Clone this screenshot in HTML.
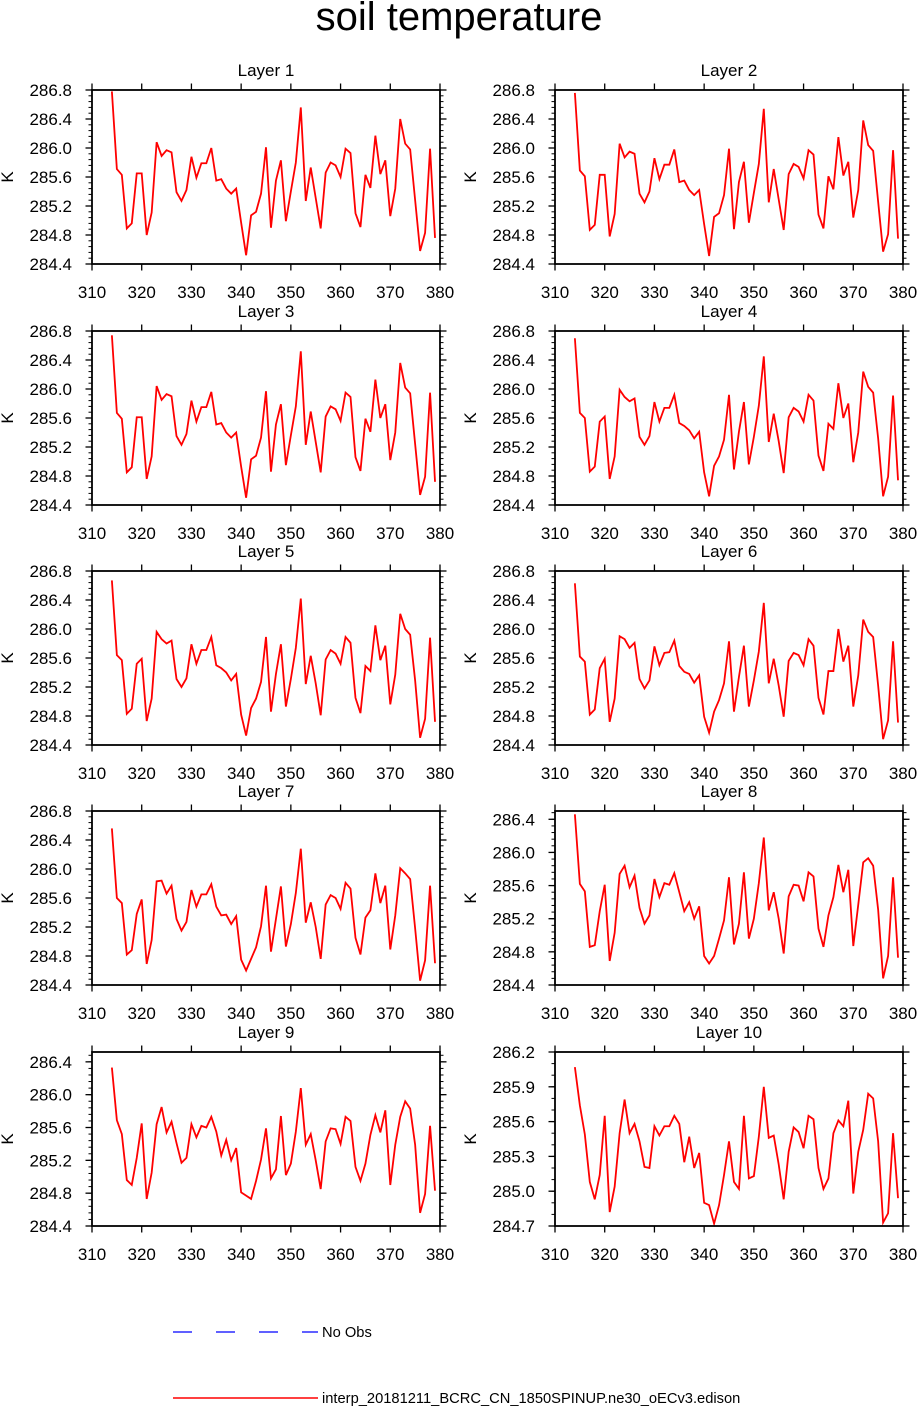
<!DOCTYPE html>
<html><head><meta charset="utf-8"><style>
html,body{margin:0;padding:0;background:#fff;}
svg{display:block;font-family:"Liberation Sans",Arial,sans-serif;}
</style></head><body>
<svg id="chart" width="918" height="1406" viewBox="0 0 918 1406" xmlns="http://www.w3.org/2000/svg">
<text x="459" y="30" text-anchor="middle" font-size="40">soil temperature</text>
<g id="panels"></g>
<g>
<line x1="173" y1="1332" x2="318" y2="1332" stroke="#0000ff" stroke-width="1.2" stroke-dasharray="19,24"/>
<text x="322" y="1337" font-size="14.7">No Obs</text>
<line x1="173" y1="1398" x2="318" y2="1398" stroke="#ff0000" stroke-width="1.5"/>
<text x="322" y="1403" font-size="14.7">interp_20181211_BCRC_CN_1850SPINUP.ne30_oECv3.edison</text>
</g>
</svg>
<script>
const days=[314,315,316,317,318,319,320,321,322,323,324,325,326,327,328,329,330,331,332,333,334,335,336,337,338,339,340,341,342,343,344,345,346,347,348,349,350,351,352,353,354,355,356,357,358,359,360,361,362,363,364,365,366,367,368,369,370,371,372,373,374,375,376,377,378,379];
const xTicks=[310,320,330,340,350,360,370,380];
const layer1=[286.78,285.71,285.63,284.89,284.96,285.65,285.65,284.80,285.11,286.08,285.89,285.97,285.94,285.39,285.27,285.42,285.88,285.59,285.79,285.79,286.00,285.55,285.57,285.44,285.37,285.44,284.97,284.52,285.07,285.12,285.37,286.01,284.90,285.55,285.83,284.99,285.40,285.80,286.56,285.27,285.73,285.31,284.89,285.66,285.80,285.76,285.60,285.99,285.93,285.10,284.91,285.63,285.45,286.17,285.64,285.83,285.06,285.44,286.40,286.06,285.98,285.28,284.58,284.83,285.99,284.76];
const layer2=[286.76,285.69,285.61,284.87,284.94,285.63,285.63,284.78,285.09,286.06,285.87,285.95,285.92,285.37,285.25,285.40,285.86,285.57,285.77,285.77,285.98,285.53,285.55,285.42,285.35,285.42,284.95,284.51,285.05,285.10,285.35,285.99,284.88,285.53,285.81,284.97,285.38,285.78,286.54,285.25,285.71,285.29,284.87,285.64,285.78,285.74,285.58,285.97,285.91,285.08,284.89,285.61,285.43,286.15,285.62,285.81,285.04,285.42,286.38,286.04,285.96,285.26,284.57,284.81,285.97,284.75];
const layer3=[286.74,285.67,285.59,284.85,284.92,285.61,285.61,284.76,285.07,286.04,285.85,285.93,285.90,285.35,285.23,285.38,285.84,285.55,285.75,285.75,285.96,285.51,285.53,285.40,285.33,285.40,284.93,284.50,285.03,285.08,285.33,285.97,284.86,285.51,285.79,284.95,285.36,285.76,286.52,285.23,285.69,285.27,284.85,285.62,285.76,285.72,285.56,285.95,285.89,285.06,284.87,285.59,285.41,286.13,285.60,285.79,285.02,285.40,286.36,286.02,285.94,285.24,284.54,284.79,285.95,284.72];
const layer4=[286.70,285.67,285.60,284.86,284.93,285.55,285.62,284.76,285.07,285.99,285.89,285.83,285.87,285.34,285.23,285.35,285.82,285.55,285.74,285.74,285.92,285.53,285.49,285.43,285.32,285.41,284.85,284.52,284.94,285.07,285.30,285.92,284.89,285.41,285.82,284.96,285.34,285.77,286.45,285.27,285.66,285.28,284.84,285.61,285.74,285.69,285.55,285.92,285.84,285.08,284.87,285.52,285.45,286.08,285.60,285.80,284.99,285.40,286.24,286.03,285.95,285.32,284.52,284.79,285.91,284.74];
const layer5=[286.67,285.64,285.57,284.83,284.90,285.52,285.59,284.73,285.04,285.96,285.86,285.80,285.84,285.31,285.20,285.32,285.79,285.52,285.71,285.71,285.89,285.50,285.46,285.40,285.29,285.38,284.82,284.53,284.91,285.04,285.27,285.89,284.86,285.38,285.79,284.93,285.31,285.74,286.42,285.24,285.63,285.25,284.81,285.58,285.71,285.66,285.52,285.89,285.81,285.05,284.84,285.49,285.42,286.05,285.57,285.77,284.96,285.37,286.21,286.00,285.92,285.29,284.50,284.76,285.88,284.72];
const layer6=[286.63,285.62,285.55,284.82,284.89,285.46,285.59,284.72,285.04,285.90,285.86,285.74,285.81,285.31,285.18,285.29,285.76,285.50,285.67,285.68,285.84,285.49,285.41,285.38,285.26,285.36,284.79,284.57,284.86,285.02,285.25,285.83,284.86,285.34,285.77,284.93,285.29,285.69,286.36,285.25,285.59,285.22,284.79,285.56,285.67,285.64,285.50,285.86,285.77,285.05,284.82,285.42,285.42,286.00,285.55,285.77,284.93,285.36,286.13,285.96,285.89,285.22,284.48,284.74,285.83,284.71];
const layer7=[286.56,285.60,285.53,284.82,284.88,285.38,285.58,284.69,285.02,285.83,285.84,285.66,285.77,285.31,285.15,285.27,285.71,285.48,285.65,285.65,285.79,285.48,285.36,285.37,285.24,285.35,284.75,284.60,284.76,284.92,285.21,285.77,284.86,285.31,285.76,284.93,285.24,285.67,286.28,285.26,285.54,285.20,284.76,285.51,285.64,285.60,285.45,285.81,285.73,285.05,284.82,285.33,285.43,285.94,285.53,285.77,284.89,285.36,286.01,285.94,285.86,285.18,284.46,284.74,285.77,284.70];
const layer8=[286.46,285.62,285.53,284.86,284.88,285.29,285.61,284.69,285.03,285.74,285.84,285.58,285.72,285.33,285.14,285.24,285.68,285.46,285.63,285.61,285.75,285.52,285.29,285.40,285.20,285.35,284.75,284.66,284.75,284.96,285.18,285.70,284.89,285.14,285.76,284.96,285.20,285.63,286.18,285.30,285.52,285.20,284.78,285.47,285.61,285.60,285.41,285.76,285.71,285.08,284.86,285.24,285.46,285.85,285.52,285.79,284.87,285.37,285.88,285.93,285.84,285.31,284.48,284.75,285.70,284.73];
const layer9=[286.33,285.69,285.52,284.96,284.90,285.23,285.65,284.73,285.05,285.64,285.85,285.54,285.67,285.41,285.17,285.23,285.64,285.48,285.62,285.60,285.73,285.55,285.26,285.45,285.20,285.35,284.81,284.77,284.73,284.95,285.21,285.59,284.98,285.09,285.74,285.02,285.16,285.55,286.08,285.39,285.52,285.20,284.85,285.43,285.59,285.58,285.40,285.73,285.68,285.12,284.95,285.16,285.51,285.75,285.54,285.81,284.90,285.39,285.73,285.92,285.83,285.39,284.56,284.79,285.62,284.83];
const layer10=[286.07,285.74,285.49,285.08,284.93,285.14,285.65,284.82,285.04,285.50,285.79,285.50,285.58,285.43,285.21,285.20,285.56,285.48,285.56,285.56,285.65,285.58,285.25,285.47,285.20,285.33,284.90,284.88,284.72,284.88,285.14,285.43,285.08,285.02,285.65,285.11,285.13,285.47,285.90,285.46,285.48,285.23,284.93,285.34,285.55,285.51,285.37,285.65,285.62,285.20,285.02,285.11,285.50,285.61,285.56,285.78,284.98,285.34,285.53,285.84,285.80,285.43,284.73,284.81,285.50,284.94];
const ticks1to7=["284.4","284.8","285.2","285.6","286.0","286.4","286.8"];
const ticks8and9=["284.4","284.8","285.2","285.6","286.0","286.4"];
const ticks10=["284.7","285.0","285.3","285.6","285.9","286.2"];

const NS="http://www.w3.org/2000/svg";
const root=document.getElementById('panels');
function mk(tag,attrs,parent){const e=document.createElementNS(NS,tag);for(const k in attrs)e.setAttribute(k,attrs[k]);parent.appendChild(e);return e;}

const panels=[
 {title:"Layer 1",data:layer1,ticks:ticks1to7,ymin:284.4,ymax:286.8,minor:0.08},
 {title:"Layer 2",data:layer2,ticks:ticks1to7,ymin:284.4,ymax:286.8,minor:0.08},
 {title:"Layer 3",data:layer3,ticks:ticks1to7,ymin:284.4,ymax:286.8,minor:0.08},
 {title:"Layer 4",data:layer4,ticks:ticks1to7,ymin:284.4,ymax:286.8,minor:0.08},
 {title:"Layer 5",data:layer5,ticks:ticks1to7,ymin:284.4,ymax:286.8,minor:0.08},
 {title:"Layer 6",data:layer6,ticks:ticks1to7,ymin:284.4,ymax:286.8,minor:0.08},
 {title:"Layer 7",data:layer7,ticks:ticks1to7,ymin:284.4,ymax:286.8,minor:0.08},
 {title:"Layer 8",data:layer8,ticks:ticks8and9,ymin:284.4,ymax:286.5,minor:0.08},
 {title:"Layer 9",data:layer9,ticks:ticks8and9,ymin:284.4,ymax:286.52,minor:0.08},
 {title:"Layer 10",data:layer10,ticks:ticks10,ymin:284.7,ymax:286.2,minor:0.1}
];
const tops=[90,331,571,811,1052];
const lefts=[92,555];
const W=348,H=174;
const FS='17';

panels.forEach((p,i)=>{
  const L=lefts[i%2], T=tops[Math.floor(i/2)];
  const g=mk('g',{},root);
  
  
  const xs=v=>L+(v-310)/70*W;
  const ys=v=>T+H-(v-p.ymin)/(p.ymax-p.ymin)*H;
  const t=mk('text',{x:L+W/2,y:T-14,'text-anchor':'middle','font-size':FS},g);
  
  
  t.textContent=p.title;
  const yl=mk('text',{x:0,y:0,'text-anchor':'middle','font-size':FS,transform:'translate('+(L-79)+','+(T+H/2)+') rotate(-90)'},g);
  
  
  yl.textContent='K';
  const start=Math.ceil((p.ymin-1e-6)/p.minor);
  for(let k=start;k*p.minor<=p.ymax+1e-6;k++){
    const y=ys(k*p.minor);
    const m1=mk('line',{x1:L-3.5,x2:L,y1:y,y2:y,stroke:'#000','stroke-width':1},g);
    
    
    const m2=mk('line',{x1:L+W,x2:L+W+3.5,y1:y,y2:y,stroke:'#000','stroke-width':1},g);
    
    
  }
  p.ticks.forEach(lbl=>{
    const y=ys(parseFloat(lbl));
    const a=mk('line',{x1:L-6.5,x2:L,y1:y,y2:y,stroke:'#000','stroke-width':1.3},g);
    
    
    const b=mk('line',{x1:L+W,x2:L+W+6.5,y1:y,y2:y,stroke:'#000','stroke-width':1.3},g);
    
    
    const tx=mk('text',{x:L-20,y:y+6,'text-anchor':'end','font-size':FS},g);
    
    
    tx.textContent=lbl;
  });
  xTicks.forEach(v=>{
    const x=xs(v);
    const a=mk('line',{x1:x,x2:x,y1:T+H,y2:T+H+6.5,stroke:'#000','stroke-width':1.3},g);
    
    
    const b=mk('line',{x1:x,x2:x,y1:T-6.5,y2:T,stroke:'#000','stroke-width':1.3},g);
    
    
    const tx=mk('text',{x:x,y:T+H+34,'text-anchor':'middle','font-size':FS},g);
    
    
    tx.textContent=String(v);
  });
  const pts=p.data.map((v,k)=>xs(days[k]).toFixed(2)+','+ys(v).toFixed(2)).join(' ');
  const line=mk('polyline',{points:pts,fill:'none',stroke:'#ff0000','stroke-width':1.8,'stroke-linejoin':'miter'},g);
  
  
  const fr=mk('rect',{x:L,y:T,width:W,height:H,fill:'none',stroke:'#000','stroke-width':1.8},g);
  
  
});
</script>
</body></html>
